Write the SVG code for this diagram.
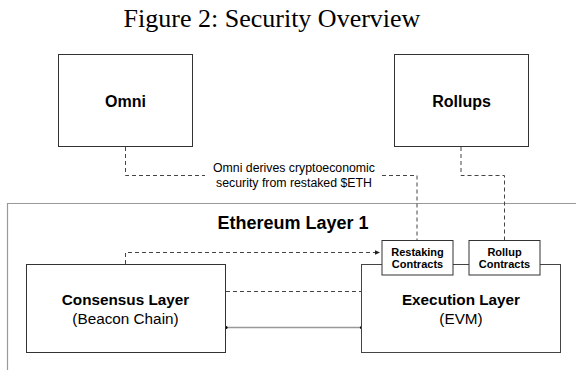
<svg xmlns="http://www.w3.org/2000/svg" width="576" height="370" viewBox="0 0 576 370">
<defs>
<style>
.box{fill:#fff;stroke:#333;stroke-width:1}
.outer{fill:none;stroke:#999;stroke-width:1.2}
.dash{fill:none;stroke:#444;stroke-width:1;stroke-dasharray:4,3}
.solid{fill:none;stroke:#999;stroke-width:1.5}
.t{font-family:"Liberation Sans",Arial,sans-serif;fill:#000;text-anchor:middle}
.b{font-weight:bold}
.title{font-family:"Liberation Serif","Times New Roman",serif;font-size:26px;fill:#000;text-anchor:middle}
</style>
<marker id="arr" markerWidth="6" markerHeight="6" refX="5" refY="3" orient="auto" markerUnits="userSpaceOnUse">
<path d="M0,0.8 L5,3 L0,5.2 Z" fill="#222"/>
</marker>
</defs>
<rect width="576" height="370" fill="#fff"/>
<text class="title" x="272" y="27">Figure 2: Security Overview</text>

<g id="ethereum-l1">
<path class="outer" d="M7.5,380 V203.5 H590"/>
<text class="t b" x="293" y="229" font-size="18">Ethereum Layer 1</text>
</g>

<g id="connectors">
<path class="dash" d="M125.5,147 V175.5 H205"/>
<path class="dash" d="M382,175.5 H417 V240"/>
<path class="dash" d="M461,147 V175.5 H504.5 V240"/>
<path class="dash" d="M125.5,264 V252.5 H380" marker-end="url(#arr)"/>
<path class="dash" d="M226,291.5 H361.5"/>
<path class="solid" d="M226,327.5 H361.5"/>
<circle cx="226" cy="327.5" r="1.6" fill="#000"/>
<circle cx="361.5" cy="327.5" r="1.6" fill="#000"/>
<text class="t" x="294" y="171.5" font-size="12.3">Omni derives cryptoeconomic</text>
<text class="t" x="294" y="186.5" font-size="12.3">security from restaked $ETH</text>
</g>

<g id="omni">
<rect class="box" x="58.5" y="54.5" width="134" height="92"/>
<text class="t b" x="125.5" y="106.5" font-size="16">Omni</text>
</g>

<g id="rollups">
<rect class="box" x="394.5" y="54.5" width="134" height="92"/>
<text class="t b" x="461.5" y="106.5" font-size="16">Rollups</text>
</g>

<g id="consensus-layer">
<rect class="box" x="26.5" y="264.5" width="199" height="88"/>
<text class="t b" x="125.5" y="305" font-size="15.3">Consensus Layer</text>
<text class="t" x="125.5" y="323.5" font-size="15.3">(Beacon Chain)</text>
</g>

<g id="execution-layer">
<rect class="box" x="361.5" y="264.5" width="199" height="88" style="stroke:#444"/>
<text class="t b" x="461" y="305" font-size="15.3">Execution Layer</text>
<text class="t" x="461" y="323.5" font-size="15.3">(EVM)</text>
</g>

<g id="restaking-contracts">
<rect class="box" x="382" y="240.5" width="71" height="34.5"/>
<text class="t b" x="417.5" y="256" font-size="11">Restaking</text>
<text class="t b" x="417.5" y="268" font-size="11">Contracts</text>
</g>

<g id="rollup-contracts">
<rect class="box" x="469" y="240.5" width="71" height="34.5"/>
<text class="t b" x="504.5" y="256" font-size="11">Rollup</text>
<text class="t b" x="504.5" y="268" font-size="11">Contracts</text>
</g>
</svg>
